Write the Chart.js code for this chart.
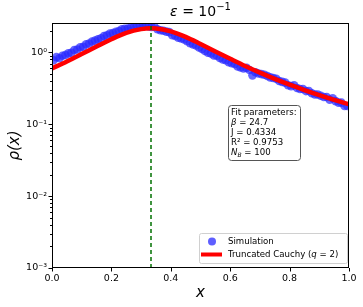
<!DOCTYPE html>
<html>
<head>
<meta charset="utf-8">
<script src="https://cdn.jsdelivr.net/npm/chart.js@4.4.1/dist/chart.umd.min.js"></script>
<style>
  html, body { margin: 0; padding: 0; background: #fff; }
  #wrap { width: 363px; height: 307px; }
</style>
</head>
<body>
<div id="wrap"><canvas id="rhoChart" width="363" height="307"></canvas></div>
<script>
// simulation histogram, bin centres and density
const xSim = [
  0.005, 0.015, 0.025, 0.035, 0.045, 0.055, 0.065, 0.075, 0.085, 0.095,
  0.105, 0.115, 0.125, 0.135, 0.145, 0.155, 0.165, 0.175, 0.185, 0.195,
  0.205, 0.215, 0.225, 0.235, 0.245, 0.255, 0.265, 0.275, 0.285, 0.295,
  0.305, 0.315, 0.325, 0.335, 0.345, 0.355, 0.365, 0.375, 0.385, 0.395,
  0.405, 0.415, 0.425, 0.435, 0.445, 0.455, 0.465, 0.475, 0.485, 0.495,
  0.505, 0.515, 0.525, 0.535, 0.545, 0.555, 0.565, 0.575, 0.585, 0.595,
  0.605, 0.615, 0.625, 0.635, 0.645, 0.655, 0.665, 0.675, 0.685, 0.695,
  0.705, 0.715, 0.725, 0.735, 0.745, 0.755, 0.765, 0.775, 0.785, 0.795,
  0.805, 0.815, 0.825, 0.835, 0.845, 0.855, 0.865, 0.875, 0.885, 0.895,
  0.905, 0.915, 0.925, 0.935, 0.945, 0.955, 0.965, 0.975, 0.985, 0.995
];
const rhoSim = [
  0.78, 0.86, 0.83, 0.90, 0.92, 0.97, 0.99, 1.08, 1.10, 1.18,
  1.20, 1.30, 1.33, 1.42, 1.46, 1.52, 1.57, 1.69, 1.73, 1.84,
  1.86, 1.94, 1.99, 2.10, 2.14, 2.15, 2.20, 2.24, 2.31, 2.33,
  2.28, 2.36, 2.31, 2.27, 2.30, 2.10, 2.04, 2.00, 1.95, 1.92,
  1.74, 1.70, 1.61, 1.57, 1.52, 1.43, 1.35, 1.29, 1.25, 1.17,
  1.12, 1.05, 0.99, 0.97, 0.91, 0.90, 0.84, 0.80, 0.78, 0.73,
  0.71, 0.69, 0.64, 0.62, 0.60, 0.61, 0.57, 0.48, 0.53, 0.51,
  0.50, 0.49, 0.47, 0.45, 0.44, 0.43, 0.40, 0.39, 0.38, 0.35,
  0.34, 0.35, 0.32, 0.31, 0.31, 0.29, 0.29, 0.27, 0.26, 0.26,
  0.25, 0.24, 0.24, 0.22, 0.23, 0.21, 0.20, 0.20, 0.18, 0.18
];

// truncated Cauchy fit curve
const xFit = [0, 0.05, 0.1, 0.15, 0.2, 0.25, 0.3, 0.3333, 0.35, 0.4, 0.45, 0.5,
              0.55, 0.6, 0.65, 0.7, 0.75, 0.8, 0.85, 0.9, 0.95, 1.0];
const rhoFit = [0.60, 0.75, 0.95, 1.21, 1.53, 1.87, 2.11, 2.17, 2.16, 1.97, 1.65, 1.31,
                1.03, 0.815, 0.648, 0.524, 0.429, 0.356, 0.300, 0.255, 0.219, 0.190];

const peakX = [1 / 3];
const xTicks = [0, 0.2, 0.4, 0.6, 0.8, 1.0];
const yMajor = [1e-3, 1e-2, 1e-1, 1];
const yLabels = ['10⁻³', '10⁻²', '10⁻¹', '10⁰'];
const yMin = 1e-3, yMax = 2.57;

const FONT = "'DejaVu Sans', sans-serif";

function runs(ctx, parts, x, y, align) {
  // parts: [text, size, italic, dy]
  let total = 0;
  parts.forEach(p => {
    ctx.font = (p[2] ? 'italic ' : '') + p[1] + 'px ' + FONT;
    total += ctx.measureText(p[0]).width;
  });
  let cx = align === 'center' ? x - total / 2 : x;
  ctx.textAlign = 'left';
  parts.forEach(p => {
    ctx.font = (p[2] ? 'italic ' : '') + p[1] + 'px ' + FONT;
    ctx.fillText(p[0], cx, y + (p[3] || 0));
    cx += ctx.measureText(p[0]).width;
  });
}

function roundRect(ctx, x, y, w, h, r) {
  ctx.beginPath();
  ctx.moveTo(x + r, y);
  ctx.arcTo(x + w, y, x + w, y + h, r);
  ctx.arcTo(x + w, y + h, x, y + h, r);
  ctx.arcTo(x, y + h, x, y, r);
  ctx.arcTo(x, y, x + w, y, r);
  ctx.closePath();
}

const decor = {
  id: 'decor',
  afterDraw(chart) {
    const ctx = chart.ctx;
    const a = chart.chartArea;
    const xs = chart.scales.x, ys = chart.scales.y;
    ctx.save();

    // frame
    ctx.strokeStyle = '#000';
    ctx.lineWidth = 1;
    ctx.strokeRect(a.left + 0.5, a.top + 0.5, a.right - a.left - 1, a.bottom - a.top - 1);

    // tick marks
    ctx.beginPath();
    xTicks.forEach(v => {
      const px = Math.round(xs.getPixelForValue(v)) + 0.5;
      ctx.moveTo(px, a.bottom); ctx.lineTo(px, a.bottom + 3.5);
    });
    for (let e = -3; e <= 0; e++) {
      for (let m = 1; m <= 9; m++) {
        const v = m * Math.pow(10, e);
        if (v > yMax) continue;
        const py = Math.round(ys.getPixelForValue(v)) + 0.5;
        const len = m === 1 ? 3.5 : 2;
        ctx.moveTo(a.left, py); ctx.lineTo(a.left - len, py);
      }
    }
    ctx.stroke();

    // y tick labels
    ctx.fillStyle = '#000';
    ctx.textBaseline = 'middle';
    ctx.textAlign = 'right';
    ctx.font = '9.5px ' + FONT;
    yMajor.forEach((v, i) => {
      ctx.fillText(yLabels[i], a.left - 5, ys.getPixelForValue(v));
    });

    // title
    ctx.textBaseline = 'middle';
    runs(ctx, [['ε', 14, true], [' = 10', 14, false], ['−1', 10, false, -5]], (a.left + a.right) / 2, 12, 'center');

    // axis labels
    runs(ctx, [['x', 15, true]], (a.left + a.right) / 2, 293, 'center');
    ctx.save();
    ctx.translate(15, (a.top + a.bottom) / 2);
    ctx.rotate(-Math.PI / 2);
    runs(ctx, [['ρ(x)', 15, true]], 0, 0, 'center');
    ctx.restore();

    // fit parameter box
    const fs = 8.6;
    ctx.fillStyle = 'rgba(255,255,255,0.9)';
    roundRect(ctx, 228.5, 105.5, 72, 55, 3);
    ctx.fill();
    ctx.lineWidth = 1;
    ctx.strokeStyle = '#555';
    ctx.stroke();
    ctx.fillStyle = '#000';
    runs(ctx, [['Fit parameters:', fs, false]], 231, 113);
    runs(ctx, [['β', fs, true], [' = 24.7', fs, false]], 231, 123);
    runs(ctx, [['J = 0.4334', fs, false]], 231, 133);
    runs(ctx, [['R² = 0.9753', fs, false]], 231, 143);
    runs(ctx, [['N', fs, true], ['B', 6, true, 2], [' = 100', fs, false]], 231, 153);

    // legend
    ctx.fillStyle = 'rgba(255,255,255,0.85)';
    roundRect(ctx, 199.5, 233.5, 148, 30, 2);
    ctx.fill();
    ctx.strokeStyle = '#d0d0d0';
    ctx.stroke();
    ctx.fillStyle = 'rgba(40,40,255,0.75)';
    ctx.beginPath();
    ctx.arc(212, 241.5, 4, 0, Math.PI * 2);
    ctx.fill();
    ctx.strokeStyle = '#ff0000';
    ctx.lineWidth = 4;
    ctx.beginPath();
    ctx.moveTo(201, 254.5); ctx.lineTo(222, 254.5);
    ctx.stroke();
    ctx.fillStyle = '#000';
    runs(ctx, [['Simulation', fs, false]], 228, 241.5);
    runs(ctx, [['Truncated Cauchy (', fs, false], ['q', fs, true], [' = 2)', fs, false]], 228, 254.5);

    ctx.restore();
  }
};

const ctx = document.getElementById('rhoChart').getContext('2d');
const rhoChart = new Chart(ctx, {
  type: 'scatter',
  data: {
    datasets: [{
      label: 'peak',
      data: [{ x: peakX[0], y: yMin }, { x: peakX[0], y: yMax }],
      showLine: true,
      borderColor: '#007000',
      borderWidth: 1.5,
      borderDash: [4, 3],
      pointRadius: 0,
      order: 0
    }, {
      label: 'Truncated Cauchy (q = 2)',
      data: xFit.map((x, i) => ({ x: x, y: rhoFit[i] })),
      showLine: true,
      borderColor: '#ff0000',
      borderWidth: 4.5,
      cubicInterpolationMode: 'monotone',
      pointRadius: 0,
      order: 1
    }, {
      label: 'Simulation',
      data: xSim.map((x, i) => ({ x: x, y: rhoSim[i] })),
      backgroundColor: 'rgba(40,40,255,0.7)',
      borderWidth: 0,
      pointRadius: 4.3,
      order: 2
    }]
  },
  options: {
    responsive: false,
    animation: false,
    layout: { padding: { top: 23, right: 14, left: 0, bottom: 0 } },
    plugins: { legend: { display: false }, tooltip: { enabled: false } },
    scales: {
      x: {
        type: 'linear',
        min: 0, max: 1,
        grid: { display: false, drawTicks: false },
        border: { display: false },
        ticks: {
          stepSize: 0.2,
          padding: 5,
          color: '#000',
          font: { family: FONT, size: 9.5 },
          callback: v => v.toFixed(1)
        },
        afterFit: s => { s.height = 39; }
      },
      y: {
        type: 'logarithmic',
        min: yMin, max: yMax,
        grid: { display: false, drawTicks: false },
        border: { display: false },
        ticks: { display: false },
        afterFit: s => { s.width = 52; }
      }
    }
  },
  plugins: [decor]
});
</script>
</body>
</html>
